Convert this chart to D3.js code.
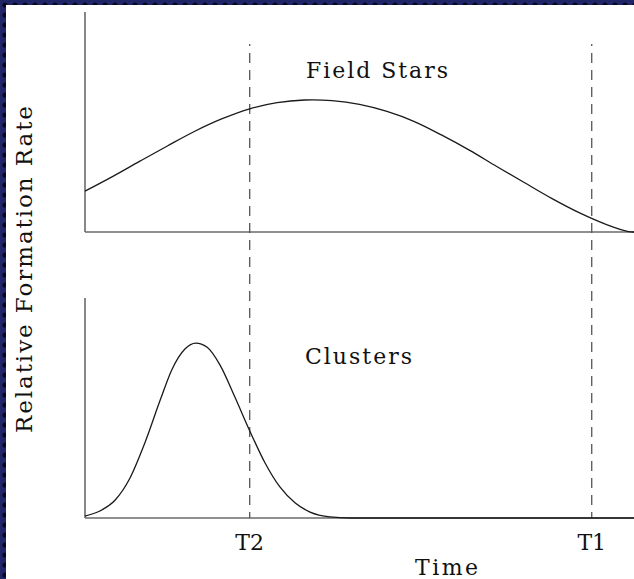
<!DOCTYPE html>
<html>
<head>
<meta charset="utf-8">
<script src="https://cdn.jsdelivr.net/npm/d3@7"></script>
<style>
  html, body { margin: 0; padding: 0; background: #1c2260; }
  svg { display: block; }
  text { font-family: "DejaVu Serif", serif; fill: #111; }
</style>
</head>
<body>
<svg id="chart" width="634" height="579"></svg>
<script>
// Time axis runs 0..100 (arbitrary units); rates are relative (0..1).
const fieldTime = [0, 5, 10, 15, 20, 25, 30, 35, 40, 45, 50, 55, 60, 65, 70, 75, 80, 85, 90, 95, 99, 100];
const fieldRate = [0.186, 0.252, 0.322, 0.391, 0.458, 0.515, 0.560, 0.588, 0.600, 0.597, 0.580, 0.548, 0.502, 0.440, 0.372, 0.298, 0.225, 0.153, 0.088, 0.034, 0.002, 0.0];

const clusterTime = [0, 2.7, 5.5, 8.2, 10.9, 13.7, 15.8, 18.2, 20.2, 22.2, 24.6, 27.3, 30.1, 32.8, 35.5, 38.3, 41.0, 44.6, 48.3, 60, 100];
const clusterRate = [0.009, 0.032, 0.082, 0.182, 0.341, 0.536, 0.673, 0.768, 0.795, 0.777, 0.695, 0.550, 0.391, 0.250, 0.141, 0.068, 0.027, 0.005, 0.0, 0.0, 0.0];

const epochNames = ["T2", "T1"];
const epochTimes = [30.0, 92.3];

const panelLabels = ["Field Stars", "Clusters"];
const xTitle = "Time";
const yTitle = "Relative Formation Rate";

const svg = d3.select("#chart");
const W = 634, H = 579;

// dotted navy frame
const defs = svg.append("defs");
const pat = defs.append("pattern").attr("id", "frame").attr("width", 10).attr("height", 10)
  .attr("patternUnits", "userSpaceOnUse");
pat.append("rect").attr("width", 10).attr("height", 10).attr("fill", "#1f2566");
pat.append("circle").attr("cx", 5).attr("cy", 5).attr("r", 2.6).attr("fill", "#07081e");
svg.append("rect").attr("width", W).attr("height", H).attr("fill", "url(#frame)");
svg.append("rect").attr("x", 6).attr("y", 5).attr("width", W - 6).attr("height", H - 5).attr("fill", "#ffffff");

const x = d3.scaleLinear().domain([0, 100]).range([85, 634]);
const yTop = d3.scaleLinear().domain([0, 1]).range([232, 12]);
const yBot = d3.scaleLinear().domain([0, 1]).range([518, 298]);

const axisColor = "#6a6a6a";

function panel(y) {
  const g = svg.append("g");
  g.append("line").attr("x1", x(0)).attr("x2", x(0)).attr("y1", y(0)).attr("y2", y(1))
    .attr("stroke", axisColor).attr("stroke-width", 1.6);
  g.append("line").attr("x1", x(0)).attr("x2", x(100)).attr("y1", y(0)).attr("y2", y(0))
    .attr("stroke", axisColor).attr("stroke-width", 1.6);
}
panel(yTop);
panel(yBot);

// epoch markers
epochTimes.forEach((t, i) => {
  svg.append("line")
    .attr("x1", x(t)).attr("x2", x(t))
    .attr("y1", yTop(0.855)).attr("y2", yBot(0))
    .attr("stroke", "#555").attr("stroke-width", 1.3)
    .attr("stroke-dasharray", "10,7").attr("stroke-dashoffset", 8);
  svg.append("text").attr("x", x(t)).attr("y", 550)
    .attr("text-anchor", "middle").attr("font-size", 22).text(epochNames[i]);
});

const lineTop = d3.line().x((d, i) => x(fieldTime[i])).y(d => yTop(d)).curve(d3.curveCatmullRom);
const lineBot = d3.line().x((d, i) => x(clusterTime[i])).y(d => yBot(d)).curve(d3.curveMonotoneX);

svg.append("path").attr("d", lineTop(fieldRate)).attr("fill", "none")
  .attr("stroke", "#1a1a1a").attr("stroke-width", 1.3);
svg.append("path").attr("d", lineBot(clusterRate)).attr("fill", "none")
  .attr("stroke", "#1a1a1a").attr("stroke-width", 1.3);

svg.append("text").attr("x", 306).attr("y", 78).attr("font-size", 22)
  .attr("textLength", 142).attr("lengthAdjust", "spacing").text(panelLabels[0]);
svg.append("text").attr("x", 305).attr("y", 364).attr("font-size", 22)
  .attr("textLength", 107).attr("lengthAdjust", "spacing").text(panelLabels[1]);

svg.append("text").attr("x", 415).attr("y", 575).attr("font-size", 22)
  .attr("textLength", 63).attr("lengthAdjust", "spacing").text(xTitle);

svg.append("text").attr("transform", "translate(32,433) rotate(-90)")
  .attr("font-size", 23).attr("textLength", 327).attr("lengthAdjust", "spacing").text(yTitle);
</script>
</body>
</html>
